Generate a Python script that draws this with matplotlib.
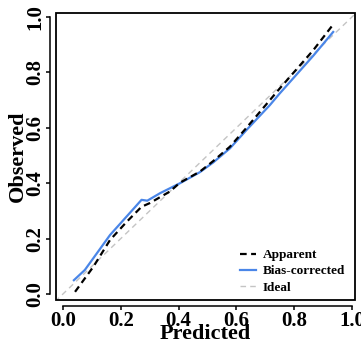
import matplotlib
matplotlib.use("Agg")
import matplotlib.pyplot as plt
from matplotlib.patches import Rectangle

# calibration curves
pred_app = [0.042, 0.105, 0.163, 0.22, 0.272, 0.30, 0.37, 0.405, 0.474, 0.52, 0.578, 0.635, 0.716, 0.75, 0.866, 0.935]
obs_app = [0.008, 0.098, 0.195, 0.26, 0.315, 0.328, 0.37, 0.402, 0.442, 0.48, 0.532, 0.60, 0.70, 0.742, 0.88, 0.973]
pred_bc = [0.038, 0.076, 0.163, 0.272, 0.292, 0.336, 0.405, 0.474, 0.52, 0.578, 0.635, 0.716, 0.75, 0.866, 0.935]
obs_bc = [0.05, 0.087, 0.213, 0.34, 0.337, 0.364, 0.40, 0.44, 0.475, 0.526, 0.592, 0.682, 0.724, 0.86, 0.946]
ticks = [0.0, 0.2, 0.4, 0.6, 0.8, 1.0]

BLUE = "#4A86E8"
GRAY = "#c4c4c4"
plt.rcParams["font.family"] = ["Liberation Serif", "DejaVu Serif"]
plt.rcParams["font.weight"] = "bold"

fig = plt.figure(figsize=(3.61, 3.45), dpi=100)
ax = fig.add_axes([0.155, 0.130, 0.828, 0.832])
ax.set_xlim(-0.024, 1.01)
ax.set_ylim(-0.022, 1.014)

ax.plot([-0.1, 1.1], [-0.1, 1.1], color=GRAY, lw=1.0, ls=(0, (4, 3)), label="Ideal", zorder=1)
ax.plot(pred_app, obs_app, color="black", lw=1.6, ls=(0, (3, 2)), label="Apparent", zorder=3)
ax.plot(pred_bc, obs_bc, color=BLUE, lw=1.6, label="Bias-corrected", zorder=2)

# R-style box + detached axes
ax.add_patch(Rectangle((0, 0), 1, 1, transform=ax.transAxes, fill=False,
                       lw=1.3, ec="black", clip_on=False, zorder=5))
for s in ["top", "right"]:
    ax.spines[s].set_visible(False)
for s in ["left", "bottom"]:
    ax.spines[s].set_position(("outward", 4.3))
    ax.spines[s].set_bounds(0, 1)
    ax.spines[s].set_linewidth(1.1)

ax.set_xticks(ticks)
ax.set_yticks(ticks)
ax.set_xticklabels([f"{t:.1f}" for t in ticks], fontsize=15, fontweight="bold")
ax.set_yticklabels([f"{t:.1f}" for t in ticks], fontsize=15, fontweight="bold",
                   rotation=90, va="center")
ax.tick_params(length=3, width=1.1, pad=0.5)
ax.set_xlabel("Predicted", fontsize=16, fontweight="bold", labelpad=-5)
ax.set_ylabel("Observed", fontsize=16, fontweight="bold", labelpad=-2)

h, l = ax.get_legend_handles_labels()
order = [1, 2, 0]
ax.legend([h[i] for i in order], [l[i] for i in order], loc="lower right",
          frameon=False, handlelength=1.2, handletextpad=0.5,
          labelspacing=0.3, borderaxespad=0.1, bbox_to_anchor=(0.99, 0.0),
          prop={"weight": "bold", "size": 9.5})

fig.savefig("out.png", dpi=100)
